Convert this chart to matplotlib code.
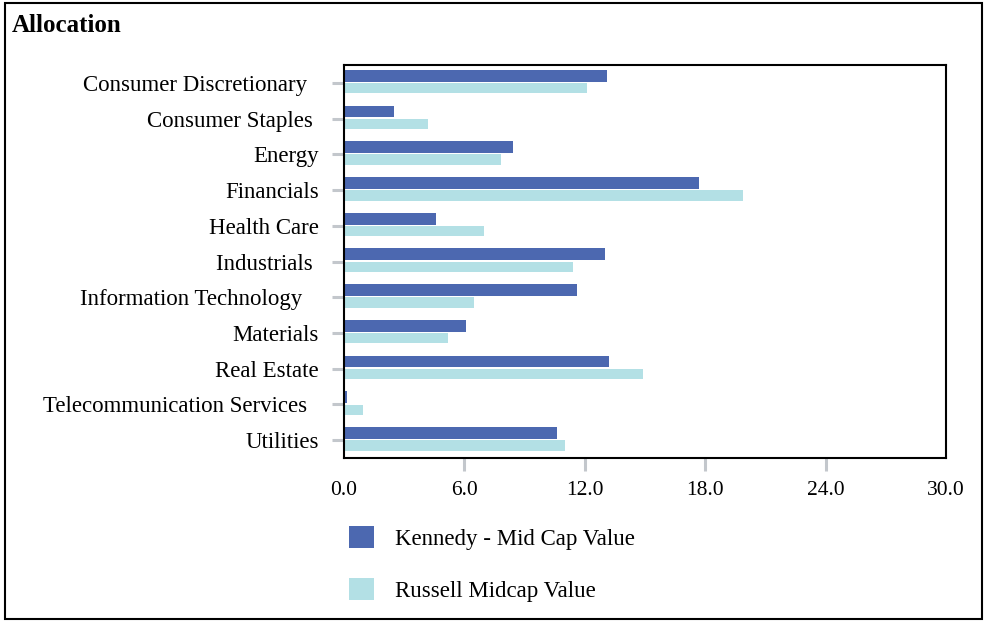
import numpy as np
import matplotlib
matplotlib.use("Agg")
import matplotlib.pyplot as plt
from matplotlib.patches import Rectangle

sectors = ["Consumer Discretionary  ", "Consumer Staples ", "Energy", "Financials",
           "Health Care", "Industrials ", "Information Technology   ", "Materials",
           "Real Estate", "Telecommunication Services  ", "Utilities"]
kennedy = [13.1, 2.5, 8.4, 17.7, 4.6, 13.0, 11.6, 6.1, 13.2, 0.15, 10.6]
russell = [12.1, 4.2, 7.8, 19.9, 7.0, 11.4, 6.5, 5.2, 14.9, 0.95, 11.0]
xticks = [0, 6, 12, 18, 24, 30]

c_ken = "#4C68B0"
c_rus = "#B3E0E5"
tick_gray = "#C3C7CC"

plt.rcParams['font.family'] = ['Liberation Serif', 'DejaVu Serif']

fig = plt.figure(figsize=(9.84, 6.21), dpi=100)
ax = fig.add_axes([344/984, 1-458/621, (946-344)/984, (458-65)/621])

y = np.arange(len(sectors))
ax.barh(y - 0.2, kennedy, height=0.33, color=c_ken, label="Kennedy - Mid Cap Value")
ax.barh(y + 0.15, russell, height=0.29, color=c_rus, label="Russell Midcap Value")

ax.set_xlim(0, 30)
ax.set_ylim(len(sectors) - 0.5, -0.5)
ax.set_yticks(y)
ax.set_yticklabels(sectors, fontsize=16.5)
ax.set_xticks(xticks)
ax.set_xticklabels(["%.1f" % v for v in xticks], fontsize=15.5)

ax.tick_params(axis='y', length=9, width=2.2, color=tick_gray, pad=9)
ax.tick_params(axis='x', length=9, width=2.2, color=tick_gray, pad=7.5)
xt = ax.xaxis.get_major_ticks()
xt[0].tick1line.set_visible(False)
xt[-1].tick1line.set_visible(False)

for s in ax.spines.values():
    s.set_color("black")
    s.set_linewidth(1.5)

fig.text(12/984, 1-26/621, "Allocation", fontsize=18, fontweight='bold', va='center')

fig.legend(loc='upper left', bbox_to_anchor=(349/984, 1-526/621), frameon=False,
           fontsize=16.5, handlelength=1.09, handleheight=1.09, handletextpad=0.92,
           labelspacing=1.25, borderpad=0, borderaxespad=0)

fig.patches.append(Rectangle((5/984, 2/621), 977/984, 616/621, transform=fig.transFigure,
                             fill=False, edgecolor="black", linewidth=1.5))

fig.savefig("out.png", dpi=100)
